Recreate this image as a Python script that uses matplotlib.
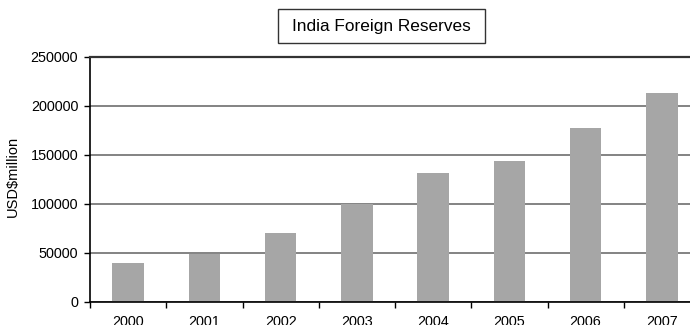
import numpy as np
import matplotlib
matplotlib.use("Agg")
import matplotlib.pyplot as plt
from matplotlib.patches import Rectangle

plt.rcParams['font.family'] = ['Liberation Sans', 'DejaVu Sans']

# Data
years = ['2000', '2001', '2002', '2003', '2004', '2005', '2006', '2007']
reserves = [39500, 49000, 70000, 100000, 131500, 143500, 177500, 213300]
y_ticks = [0, 50000, 100000, 150000, 200000, 250000]

# Plot
fig = plt.figure(figsize=(6.9, 3.25), dpi=100)
ax = fig.add_axes([90 / 690, 23.3 / 325, 610 / 690, 245 / 325])

x = np.arange(len(years))
ax.bar(x, reserves, width=0.41, color='#a6a6a6', zorder=2)

ax.set_xlim(-0.5, len(years) - 0.5)
ax.set_ylim(0, 250000)
ax.set_yticks(y_ticks)
ax.set_yticklabels([str(v) for v in y_ticks], fontsize=10.4)
ax.yaxis.grid(True, color='#6e6e6e', linewidth=1.2, zorder=1)
ax.set_axisbelow(True)

# category boundary ticks, labels in the middle
ax.set_xticks(np.arange(len(years) + 1) - 0.5)
ax.set_xticklabels([])
ax.set_xticks(x, minor=True)
ax.set_xticklabels(years, minor=True, fontsize=10.4)
ax.tick_params(axis='x', which='major', length=4, width=1, color='black')
ax.tick_params(axis='x', which='minor', length=0, pad=9.5)
ax.tick_params(axis='y', length=4, width=1, pad=4.5)

ax.spines['right'].set_visible(False)
ax.spines['top'].set_color('#333333')
ax.spines['top'].set_linewidth(1.6)
ax.spines['left'].set_linewidth(1.2)
ax.spines['bottom'].set_linewidth(1.2)

ax.set_ylabel('USD$million', fontsize=10.5)
ax.yaxis.set_label_coords(-70 / 610, 0.51)

# boxed title
fig.patches.append(Rectangle((278 / 690, 1 - 43 / 325), 207 / 690, 34 / 325,
                             transform=fig.transFigure, fill=False,
                             edgecolor='#333333', linewidth=1.0))
fig.text(381.5 / 690, 1 - 26 / 325, 'India Foreign Reserves', fontsize=12.4,
         ha='center', va='center')

fig.savefig('out.png', dpi=100)
